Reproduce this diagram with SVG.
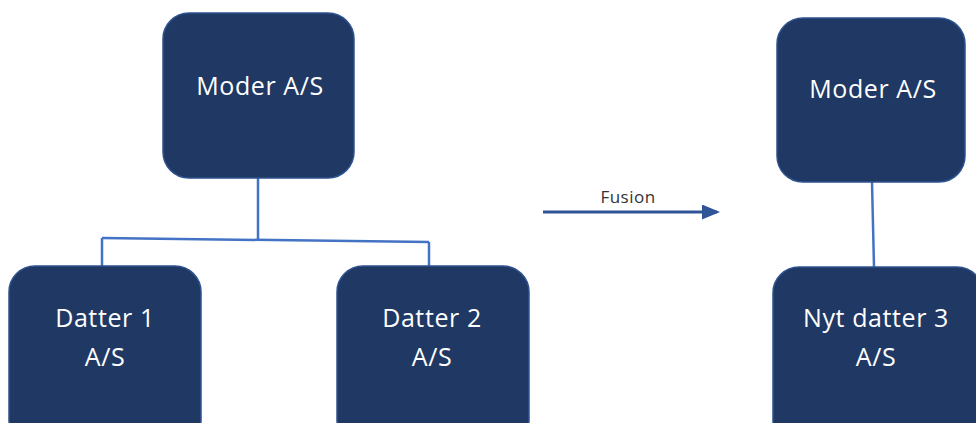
<svg xmlns="http://www.w3.org/2000/svg" width="976" height="423" viewBox="0 0 976 423">
<defs>
<style>
.box{fill:#1f3864;stroke:#2f528f;stroke-width:1.5}
.lbl{font-family:"Open Sans","Liberation Sans",sans-serif;font-size:25px;letter-spacing:0.6px;fill:#ffffff;text-anchor:middle}
.con{stroke:#4472c4;stroke-width:2.5;fill:none}
.fus{font-family:"Open Sans","Liberation Sans",sans-serif;font-size:17px;letter-spacing:0.5px;fill:#333333;text-anchor:middle}
</style>
<marker id="ah" markerWidth="6" markerHeight="5" refX="5" refY="2.5" orient="auto" markerUnits="strokeWidth">
<path d="M0,0 L6,2.5 L0,5 Z" fill="#2f5597"/>
</marker>
</defs>
<g id="connectors">
<line class="con" x1="258" y1="178" x2="258" y2="240"/>
<line class="con" x1="102" y1="238" x2="429" y2="242"/>
<line class="con" x1="102" y1="238" x2="102" y2="266"/>
<line class="con" x1="429" y1="242" x2="429" y2="266"/>
<line class="con" x1="872" y1="182" x2="874" y2="267"/>
<line x1="543" y1="212" x2="717" y2="212" stroke="#2f5597" stroke-width="3" marker-end="url(#ah)"/>
<text class="fus" x="628" y="203">Fusion</text>
</g>
<g id="moder1">
<rect class="box" x="163" y="13" width="191" height="165" rx="26"/>
<text class="lbl" x="260" y="95">Moder A/S</text>
</g>
<g id="datter1">
<rect class="box" x="9" y="266" width="192" height="180" rx="26"/>
<text class="lbl" x="105" y="327">Datter 1</text>
<text class="lbl" x="105" y="366">A/S</text>
</g>
<g id="datter2">
<rect class="box" x="337" y="266" width="192" height="180" rx="26"/>
<text class="lbl" x="432" y="327">Datter 2</text>
<text class="lbl" x="432" y="366">A/S</text>
</g>
<g id="moder2">
<rect class="box" x="777" y="18" width="188" height="164" rx="26"/>
<text class="lbl" x="873" y="98">Moder A/S</text>
</g>
<g id="datter3">
<rect class="box" x="773" y="267" width="210" height="180" rx="26"/>
<text class="lbl" x="876" y="327">Nyt datter 3</text>
<text class="lbl" x="876" y="366">A/S</text>
</g>
</svg>
